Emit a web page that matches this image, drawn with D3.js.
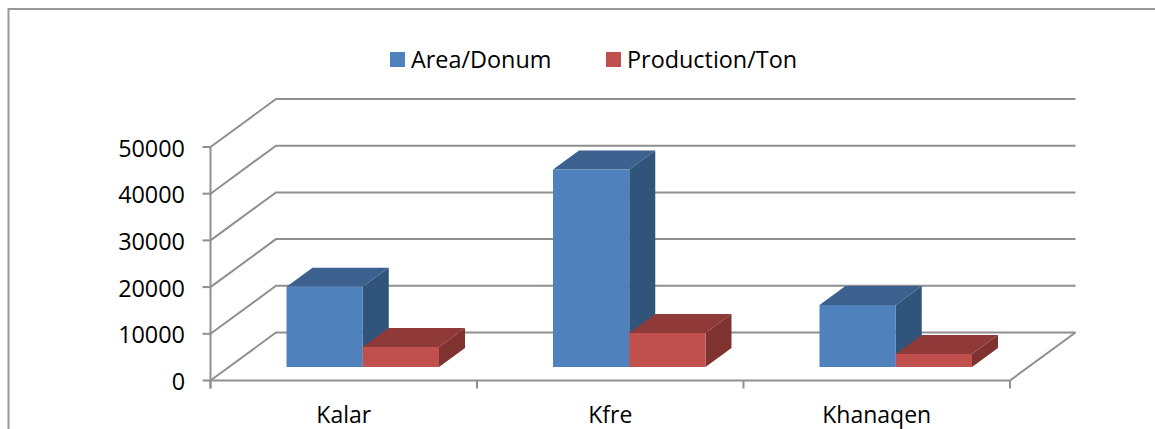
<!DOCTYPE html>
<html><head><meta charset="utf-8">
<script src="https://cdn.jsdelivr.net/npm/d3@7/dist/d3.min.js"></script>
<style>html,body{margin:0;padding:0;background:#fff}svg{display:block}text{font-family:"Open Sans",sans-serif;fill:#000}</style>
</head><body><svg id="c" width="1155" height="429"></svg>
<script>
const categories = ["Kalar", "Kfre", "Khanaqen"];
const seriesNames = ["Area/Donum", "Production/Ton"];
const areaDonum = [17200, 42300, 13300];
const productionTon = [4300, 7300, 2800];
const yTicks = [0, 10000, 20000, 30000, 40000, 50000];

const W = 1155, H = 429;
const svg = d3.select("#c").attr("viewBox", `0 0 ${W} ${H}`);
const x = d3.scaleBand().domain(categories).range([210.5, 1010]);
const y = d3.scaleLinear().domain([0, 50000]).range([380.5, 147]);
const s = d3.scaleBand().domain(seriesNames).range([0, 152.5]);
const wall = {dx: 65.5, dy: -48};           // full depth of the floor
const gridC = "#8f8f8f";
const colors = {
  "Area/Donum": {front: "#4f81bd", top: "#3c618f", side: "#31547b"},
  "Production/Ton": {front: "#c0504d", top: "#8f3a38", side: "#7f3230"}
};
const seriesValues = {"Area/Donum": areaDonum, "Production/Ton": productionTon};

// chart frame, cut by the picture on the right and at the bottom
svg.append("path").attr("d", `M8.5 ${H+2}V9H${W+2}`).attr("fill", "none").attr("stroke", "#999").attr("stroke-width", 2);

// back wall and side wall gridlines
const xL = x.range()[0], xR = x.range()[1];
const grid = svg.append("g").attr("fill", "none").attr("stroke", gridC).attr("stroke-width", 2);
yTicks.forEach(t => {
  grid.append("path").attr("d", `M${xL} ${y(t)}L${xL + wall.dx} ${y(t) + wall.dy}H${xR + wall.dx}`);
});
// floor
grid.append("path").attr("d", `M${xL} ${y(0)}H${xR}L${xR + wall.dx} ${y(0) + wall.dy}`);
// value axis + ticks
grid.append("path").attr("d", `M${xL} ${y(0)+8}V${y(50000)}`);
yTicks.forEach(t => grid.append("path").attr("d", `M${xL - 8} ${y(t)}H${xL}`));
// category ticks
[xL, ...categories.map(c => x(c) + x.bandwidth())].forEach(v =>
  grid.append("path").attr("d", `M${v} ${y(0)}v8`));

// value labels
svg.append("g").selectAll("text").data(yTicks).join("text")
  .attr("x", 185).attr("y", d => y(d) + 9.5).attr("text-anchor", "end")
  .attr("font-size", 23.4).text(d => d);

// bars
const bz = {dx: 19.5, dy: -13.5};           // bar front plane relative to axis plane
const bd = {dx: 26, dy: -19};               // bar depth
const pts = a => "M" + a.map(p => p.join(" ")).join("L") + "Z";
const bars = svg.append("g");
categories.forEach((c, i) => {
  const x0 = x(c) + (x.bandwidth() - 152.5) / 2 + bz.dx - 0.5;
  seriesNames.forEach(n => {
    const v = seriesValues[n][i], col = colors[n];
    const l = x0 + s(n), r = l + s.bandwidth();
    const b = y(0) + bz.dy, t = y(v) + bz.dy;
    bars.append("path").attr("d", pts([[l,t],[l+bd.dx,t+bd.dy],[r+bd.dx,t+bd.dy],[r,t]])).attr("fill", col.top);
    bars.append("path").attr("d", pts([[r,t],[r+bd.dx,t+bd.dy],[r+bd.dx,b+bd.dy],[r,b]])).attr("fill", col.side);
    bars.append("path").attr("d", pts([[l,t],[r,t],[r,b],[l,b]])).attr("fill", col.front);
  });
});

// category labels
svg.append("g").selectAll("text").data(categories).join("text")
  .attr("x", d => x(d) + x.bandwidth() / 2).attr("y", 423).attr("text-anchor", "middle")
  .attr("font-size", 23).text(d => d);

// legend
const legendX = [390, 606];
seriesNames.forEach((n, i) => {
  svg.append("rect").attr("x", legendX[i]).attr("y", 52).attr("width", 15).attr("height", 15).attr("fill", colors[n].front);
  svg.append("text").attr("x", legendX[i] + 21).attr("y", 68).attr("font-size", 23.4).text(n);
});
</script></body></html>
